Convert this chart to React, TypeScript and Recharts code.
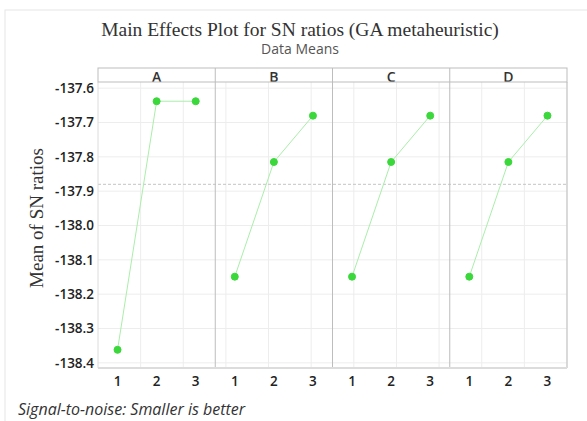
import React from 'react';
import { LineChart, Line, XAxis, YAxis, CartesianGrid, ReferenceLine } from 'recharts';

// factor names and level labels
const factors = ['A', 'B', 'C', 'D'];
const levels = [1, 2, 3];

// mean SN ratio for each level, per factor
const snA = [-138.362, -137.638, -137.638];
const snB = [-138.149, -137.815, -137.68];
const snC = [-138.149, -137.815, -137.68];
const snD = [-138.149, -137.815, -137.68];
const overallMean = -137.88;

const yTicks = [-138.4, -138.3, -138.2, -138.1, -138.0, -137.9, -137.8, -137.7, -137.6];

const seriesValues = [snA, snB, snC, snD];

// one row per (factor, level); x runs 1..12 across the four panels
const data: Record<string, number>[] = [];
factors.forEach((f, i) => {
  levels.forEach((lv, j) => {
    data.push({ x: i * levels.length + lv, [f]: seriesValues[i][j] });
  });
});

const xTicks = data.map(d => d.x);
const headerTicks = factors.map((_, i) => i * levels.length + 2);
const panelEdges = factors.slice(1).map((_, i) => (i + 1) * levels.length + 0.5);

const W = 587;
const H = 421;
const plotLeft = 98;
const plotRight = 567;
const headerTop = 68;
const headerBottom = 82;

const sans = '"Open Sans", "Noto Sans", sans-serif';
const serif = '"Liberation Serif", "DejaVu Serif", serif';

export default function App() {
  const panelW = (plotRight - plotLeft) / factors.length;
  return (
    <div style={{ position: 'absolute', left: 0, top: 0, width: W, height: H, background: '#fff' }}>
      <LineChart
        width={W}
        height={H}
        data={data}
        margin={{ top: headerTop, right: W - plotRight, bottom: 23, left: 0 }}
      >
        <CartesianGrid stroke="#ededed" horizontalValues={yTicks} verticalValues={xTicks} />
        <XAxis
          xAxisId="bottom"
          dataKey="x"
          type="number"
          domain={[0.5, 12.5]}
          ticks={xTicks}
          tickFormatter={(v: number) => String(((v - 1) % 3) + 1)}
          height={30}
          tickLine={false}
          tickSize={0}
          tickMargin={8}
          axisLine={{ stroke: '#dcdcdc', strokeWidth: 2 }}
          tick={{ fontSize: 13.5, fill: '#222', fontFamily: sans, fontWeight: 600 }}
        />
        <XAxis
          xAxisId="top"
          orientation="top"
          dataKey="x"
          type="number"
          domain={[0.5, 12.5]}
          ticks={headerTicks}
          tickFormatter={(v: number) => factors[(v - 2) / 3]}
          height={14}
          tickLine={false}
          tickSize={0}
          tickMargin={0}
          axisLine={false}
          tick={{ fontSize: 14, fill: '#333', fontFamily: sans, fontWeight: 600 }}
        />
        <YAxis
          type="number"
          domain={[-138.415, -137.582]}
          ticks={yTicks}
          tickFormatter={(v: number) => v.toFixed(1)}
          width={plotLeft}
          tickLine={false}
          tickSize={0}
          tickMargin={4}
          axisLine={{ stroke: '#dcdcdc' }}
          tick={{ fontSize: 13.5, fill: '#222', fontFamily: sans, fontWeight: 600 }}
        />
        <ReferenceLine xAxisId="bottom" y={overallMean} stroke="#c4c4c4" strokeDasharray="3 2" />
        {panelEdges.map(e => (
          <ReferenceLine key={e} xAxisId="bottom" x={e} stroke="#bdbdbd" />
        ))}
        <ReferenceLine xAxisId="bottom" x={12.5} stroke="#bdbdbd" />
        {factors.map(f => (
          <Line
            key={f}
            xAxisId="bottom"
            dataKey={f}
            stroke="#aaeeaa"
            strokeWidth={1}
            dot={{ r: 3.5, fill: '#3ad83a', stroke: '#3ad83a', strokeWidth: 1 }}
            isAnimationActive={false}
          />
        ))}
      </LineChart>
      <svg
        width={W}
        height={H}
        style={{ position: 'absolute', left: 0, top: 0, pointerEvents: 'none' }}
      >
        <rect x={5} y={10} width={700} height={600} fill="none" stroke="#e6e6e6" />
        <rect
          x={plotLeft}
          y={headerTop}
          width={plotRight - plotLeft}
          height={headerBottom - headerTop}
          fill="none"
          stroke="#bdbdbd"
        />
        {factors.slice(1).map((f, i) => (
          <line
            key={f}
            x1={plotLeft + panelW * (i + 1)}
            x2={plotLeft + panelW * (i + 1)}
            y1={headerTop}
            y2={headerBottom}
            stroke="#bdbdbd"
          />
        ))}
        <text x={300} y={36} textAnchor="middle" fontFamily={serif} fontSize={19.5} fill="#333">
          Main Effects Plot for SN ratios (GA metaheuristic)
        </text>
        <text x={300} y={54} textAnchor="middle" fontFamily={sans} fontSize={14} fill="#555">
          Data Means
        </text>
        <text
          x={0}
          y={0}
          transform="translate(43, 218) rotate(-90)"
          textAnchor="middle"
          fontFamily={serif}
          fontSize={19}
          fill="#333"
        >
          Mean of SN ratios
        </text>
        <text x={18} y={415} fontFamily={sans} fontSize={16} fontStyle="italic" fill="#333">
          Signal-to-noise: Smaller is better
        </text>
      </svg>
    </div>
  );
}
